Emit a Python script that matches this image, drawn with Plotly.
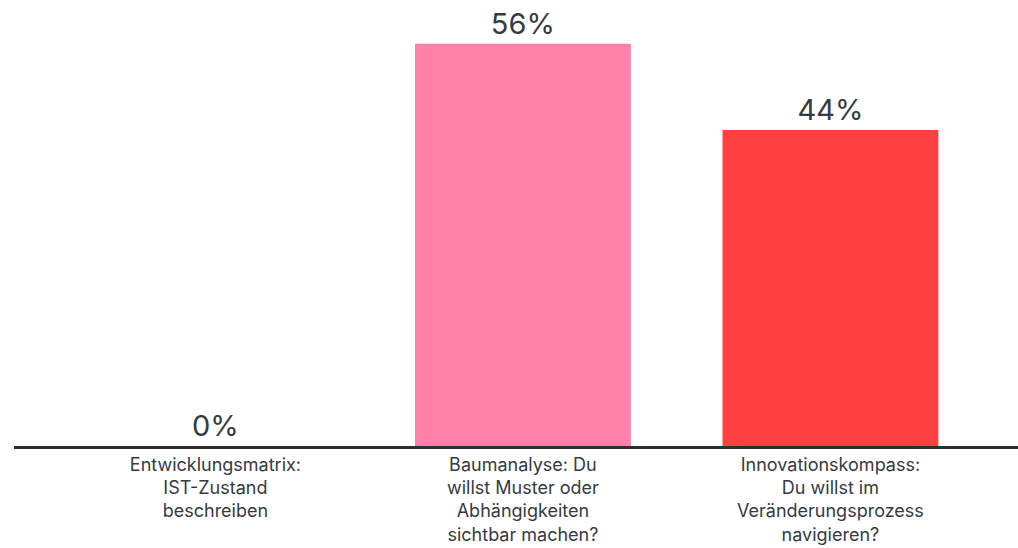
import plotly.graph_objects as go

categories = [
    "Entwicklungsmatrix:<br>IST-Zustand<br>beschreiben",
    "Baumanalyse: Du<br>willst Muster oder<br>Abhängigkeiten<br>sichtbar machen?",
    "Innovationskompass:<br>Du willst im<br>Veränderungsprozess<br>navigieren?",
]
values = [0, 56, 44]
labels = ["0%", "56%", "44%"]
colors = ["#FF80A8", "#FF80A8", "#FF4040"]

fig = go.Figure(
    go.Bar(
        x=[0, 1, 2],
        y=values,
        text=labels,
        textposition="outside",
        cliponaxis=False,
        textfont=dict(size=29, color="#363a42", family="Inter, Open Sans, sans-serif"),
        marker=dict(color=colors, line=dict(width=0)),
    )
)

fig.update_layout(
    width=1018,
    height=548,
    margin=dict(l=14, r=0, t=0, b=102, autoexpand=False),
    paper_bgcolor="white",
    plot_bgcolor="white",
    bargap=0.298,
    showlegend=False,
    font=dict(family="Inter, Open Sans, sans-serif", color="#363a42"),
)
fig.update_xaxes(
    range=[-0.655, 2.61],
    tickmode="array",
    tickvals=[0, 1, 2],
    ticktext=categories,
    tickfont=dict(size=18, color="#363a42"),
    showgrid=False,
    zeroline=False,
    showline=True,
    linecolor="#2b2e35",
    linewidth=3,
    ticks="",
    ticklabelstandoff=0,
    automargin=False,
)
fig.update_yaxes(
    range=[0, 62.1],
    visible=False,
    showgrid=False,
    zeroline=False,
    automargin=False,
)

fig.write_html(
    "out.html",
    config={"displayModeBar": False},
    post_script="document.body.style.margin='0';document.body.style.overflow='hidden';",
)
